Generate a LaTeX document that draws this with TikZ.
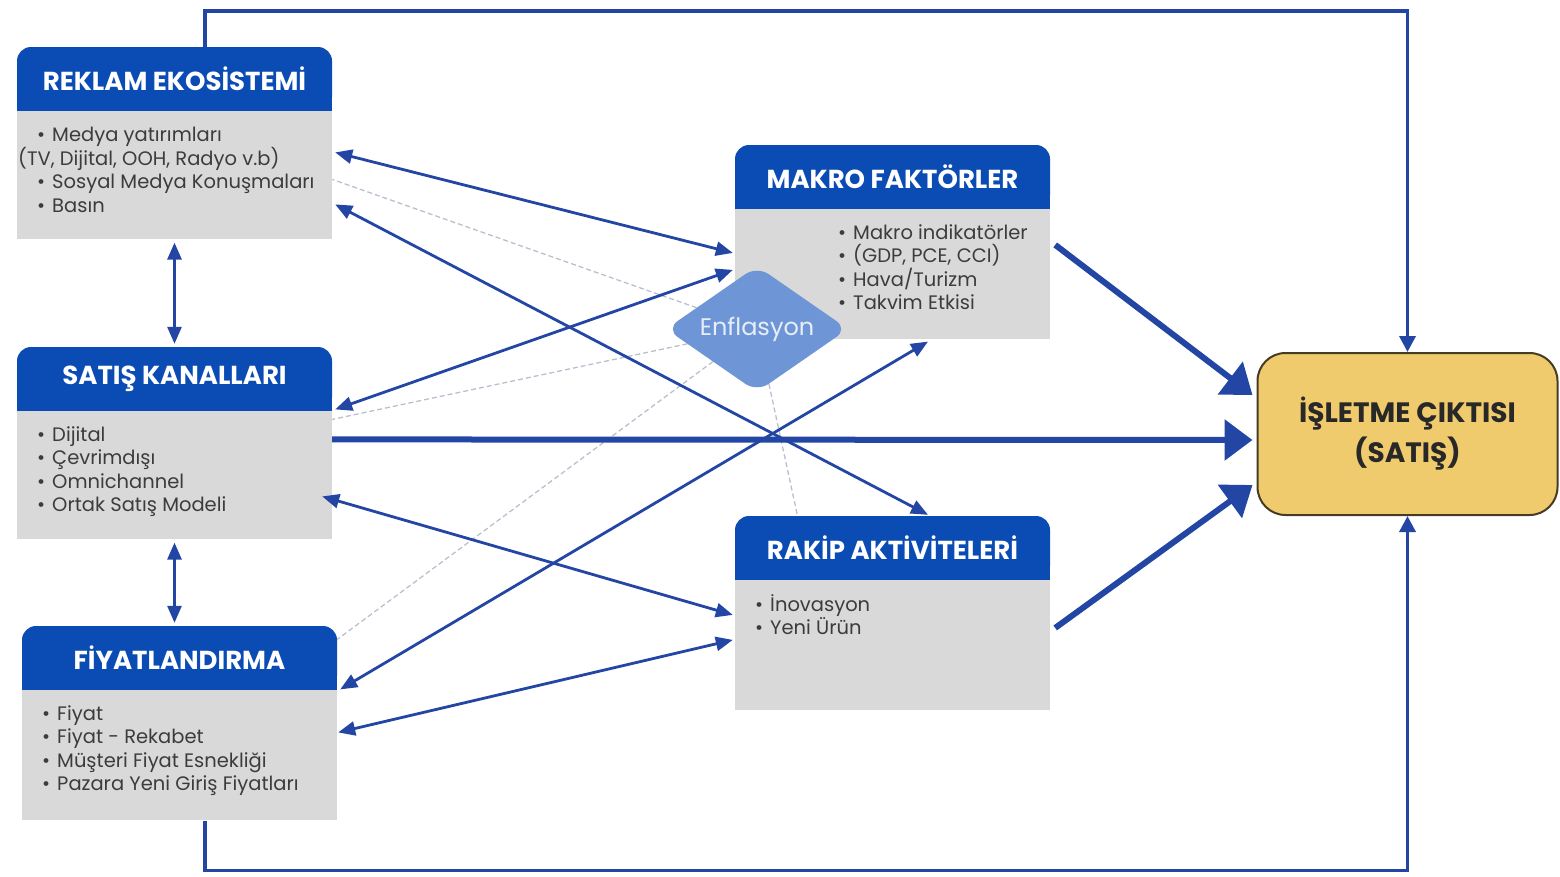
\documentclass[tikz,border=0pt]{standalone}
\usepackage{fontspec}
\setmainfont{Poppins}
\usepackage{tikz}
\usetikzlibrary{arrows.meta, shapes.geometric, positioning}
\pgfdeclarelayer{bg}
\pgfsetlayers{bg,main}

\definecolor{hdrblue}{RGB}{10,76,180}
\definecolor{boxgray}{RGB}{217,217,217}
\definecolor{bodytext}{RGB}{60,60,60}
\definecolor{arrblue}{RGB}{35,70,165}
\definecolor{dmdblue}{RGB}{110,150,214}
\definecolor{dmdtext}{RGB}{232,238,248}
\definecolor{outgold}{RGB}{240,203,110}
\definecolor{outline}{RGB}{70,60,35}
\definecolor{outtext}{RGB}{40,40,40}
\definecolor{dashgray}{RGB}{185,192,205}

\newcommand{\bul}{•\hspace{7pt}}

\tikzset{
  hdr/.style={fill=hdrblue, text=white, rounded corners=14pt, minimum width=315pt,
    minimum height=64pt, inner sep=0pt, font=\fontsize{26}{30}\selectfont\bfseries},
  bodybox/.style={fill=boxgray, minimum width=315pt, minimum height=128pt, inner sep=0pt},
  bullets/.style={anchor=north west, inner sep=0pt, align=left, text=bodytext,
    font=\fontsize{19.5}{23.6}\selectfont},
  link/.style={arrblue, line width=2.8pt, {Triangle[length=17pt,width=14pt]}-{Triangle[length=17pt,width=14pt]}},
  push/.style={arrblue, line width=6pt, -{Triangle[length=28pt,width=40pt]}},
  loopline/.style={arrblue, line width=3.5pt, -{Triangle[length=16pt,width=16pt]}},
  hint/.style={dashgray, line width=1.3pt, dash pattern=on 5pt off 3pt},
}

\begin{document}
\begin{tikzpicture}[x=1pt, y=-1pt]
  \useasboundingbox (0,0) rectangle (1560,876);

  \node[hdr] (reklam) at (174.5,79) {REKLAM EKOSİSTEMİ};
  \node[bodybox, below=0pt of reklam] (reklamb) {};
  \node[hdr] (satis) at (174.5,379) {SATIŞ KANALLARI};
  \node[bodybox, below=0pt of satis] (satisb) {};
  \node[hdr] (fiyat) at (179.5,658) {FİYATLANDIRMA};
  \node[bodybox, below=0pt of fiyat, minimum height=130pt] (fiyatb) {};
  \node[hdr] (makro) at (892.5,177) {MAKRO FAKTÖRLER};
  \node[bodybox, below=0pt of makro, minimum height=130pt] (makrob) {};
  \node[hdr] (rakip) at (892.5,548) {RAKİP AKTİVİTELERİ};
  \node[bodybox, below=0pt of rakip, minimum height=130pt] (rakipb) {};

  \node[bullets] (reklamt) at (18,127) {\hspace*{19pt}\bul Medya yatırımları\\(TV, Dijital, OOH, Radyo v.b)\\
    \hspace*{19pt}\bul Sosyal Medya Konuşmaları\\\hspace*{19pt}\bul Basın};
  \node[bullets] (satist) at (37,426) {\bul Dijital\\\bul Çevrimdışı\\\bul Omnichannel\\\bul Ortak Satış Modeli};
  \node[bullets] (fiyatt) at (42,705) {\bul Fiyat\\\bul Fiyat - Rekabet\\\bul Müşteri Fiyat Esnekliği\\\bul Pazara Yeni Giriş Fiyatları};
  \node[bullets] (makrot) at (838,224) {\bul Makro indikatörler\\\bul (GDP, PCE, CCI)\\\bul Hava/Turizm\\\bul Takvim Etkisi};
  \node[bullets] (rakipt) at (755,594) {\bul İnovasyon\\\bul Yeni Ürün};

  \node[diamond, aspect=1.5, fill=dmdblue, rounded corners=14pt, minimum width=182pt,
    minimum height=126pt, inner sep=0pt, text=dmdtext, font=\fontsize{24}{28}\selectfont] (enfl) at (757,329) {Enflasyon};

  \node[draw=outline, line width=2pt, fill=outgold, rounded corners=28pt, minimum width=300pt,
    minimum height=162pt, align=center, text=outtext, font=\fontsize{28}{40}\selectfont\bfseries]
    (cikti) at (1407.5,434) {İŞLETME ÇIKTISI\\(SATIŞ)};

  \begin{pgfonlayer}{bg}
    \foreach \h in {reklam, satis, fiyat, makro, rakip}
      \fill[hdrblue] (\h.west) rectangle (\h.south east);
    \draw[hint] (enfl) -- ([yshift=-4]reklamb.east);
    \draw[hint] (enfl) -- ([yshift=56]satisb.east);
    \draw[hint] (enfl) -- ([yshift=116]fiyatb.east);
    \draw[hint] (enfl) -- ([xshift=-95]rakip.north);
  \end{pgfonlayer}

  \draw[link] ([xshift=3,yshift=23]reklamb.east) -- ([xshift=-2,yshift=21.5]makrob.west);
  \draw[link] ([xshift=3,yshift=-29]reklamb.east) -- ([xshift=35.5,yshift=1]rakip.north);
  \draw[link] ([xshift=3,yshift=66]satisb.east) -- ([xshift=-2,yshift=4.5]makrob.west);
  \draw[link] ([xshift=-10,yshift=-21]satisb.east) -- ([xshift=-2,yshift=30.5]rakipb.west);
  \draw[link] ([xshift=3,yshift=66]fiyatb.east) -- ([xshift=35.5,yshift=-2]makrob.south);
  \draw[link] ([xshift=1,yshift=23]fiyatb.east) -- ([xshift=-2,yshift=5.5]rakipb.west);
  \draw[link, shorten <=3pt, shorten >=3pt] (reklamb.south) -- (satis.north);
  \draw[link, shorten <=3pt, shorten >=3pt] (satisb.south) -- (satisb.south |- fiyat.north);

  \draw[push] ([yshift=36]satisb.east) -- ([xshift=-4,yshift=-6]cikti.west);
  \draw[push] ([xshift=5,yshift=29.5]makrob.east) -- ([xshift=-4,yshift=39]cikti.west);
  \draw[push] ([xshift=5,yshift=17.5]rakipb.east) -- ([xshift=-4,yshift=-51]cikti.west);

  \draw[loopline] ([xshift=30.5]reklam.north) -- ++(0,-36) -| (cikti.north);
  \draw[loopline] ([xshift=25.5]fiyatb.south) -- ++(0,50) -| (cikti.south);
\end{tikzpicture}
\end{document}
